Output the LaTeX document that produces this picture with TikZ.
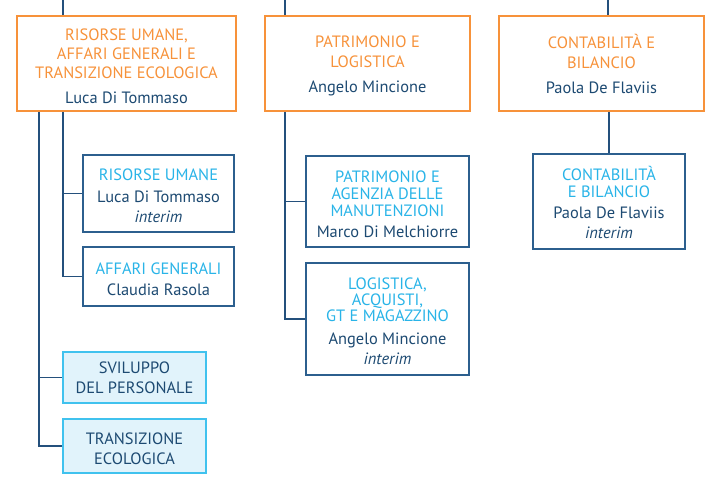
\documentclass[tikz,border=0pt]{standalone}
\usepackage{fontspec}
\setmainfont{PT Sans}
\definecolor{orangeC}{HTML}{F7923A}
\definecolor{navy}{HTML}{1D4A72}
\definecolor{cyanT}{HTML}{29B4E8}
\definecolor{subB}{HTML}{2C5F8E}
\definecolor{lightF}{HTML}{E1F3FB}
\definecolor{lightB}{HTML}{40C2EE}
\definecolor{lineC}{HTML}{24507C}
\tikzset{
  x=1pt, y=-1pt,
  txt/.style={font=\fontsize{16.4}{19}\selectfont, align=center, text=navy, inner sep=0pt},
  mainbox/.style={draw=orangeC, line width=1.7pt, fill=white, txt},
  subbox/.style={draw=subB, line width=1.2pt, fill=white, txt},
  lightbox/.style={draw=lightB, line width=1.2pt, fill=lightF, txt},
  conn/.style={draw=lineC, line width=1.1pt},
}
\newcommand{\ot}[1]{\textcolor{orangeC}{#1}}
\newcommand{\ct}[1]{\textcolor{cyanT}{#1}}
\newcommand{\fs}{\rule{0pt}{17pt}}
\begin{document}
\begin{tikzpicture}
\useasboundingbox[fill=white] (0,0) rectangle (707,485);
% main boxes
\node[mainbox, minimum width=219pt, minimum height=95pt] (b1) at (126.5,63.5)
  {\fs\ot{RISORSE UMANE,}\\\ot{AFFARI GENERALI E}\\\ot{TRANSIZIONE ECOLOGICA}\\[6pt]Luca Di Tommaso};
\node[mainbox, minimum width=205pt, minimum height=95pt] (b2) at (367.5,63.5)
  {\fs\ot{PATRIMONIO E}\\[1pt]\ot{LOGISTICA}\\[6pt]Angelo Mincione};
\node[mainbox, minimum width=205pt, minimum height=95pt] (b3) at (601.5,63.5)
  {\ot{CONTABILITÀ E}\\[1pt]\ot{BILANCIO}\\[6pt]Paola De Flaviis};
% sub boxes
\node[subbox, minimum width=151pt, minimum height=77pt] (ru) at (158.5,193.5)
  {\fs\ct{RISORSE UMANE}\\[3pt]Luca Di Tommaso\\[1pt]\textit{interim}};
\node[subbox, minimum width=151pt, minimum height=59pt] (ag) at (158.5,276.5)
  {\fs\ct{AFFARI GENERALI}\\[2pt]Claudia Rasola};
\node[lightbox, minimum width=143pt, minimum height=51pt] (sv) at (134.5,377.5)
  {SVILUPPO\\[1pt]DEL PERSONALE};
\node[lightbox, minimum width=143pt, minimum height=54pt] (tr) at (134.5,446)
  {\fs TRANSIZIONE\\[1pt]ECOLOGICA};
\node[subbox, minimum width=163pt, minimum height=91pt] (pa) at (387.5,201.5)
  {\fs\ct{PATRIMONIO E}\\[-2pt]\ct{AGENZIA DELLE}\\[-2pt]\ct{MANUTENZIONI}\\[2pt]Marco Di Melchiorre};
\node[subbox, minimum width=163pt, minimum height=112pt] (lo) at (387.5,319)
  {\fs\ct{LOGISTICA,}\\[-3pt]\ct{ACQUISTI,}\\[-3pt]\ct{GT E MAGAZZINO}\\[4pt]Angelo Mincione\\[1pt]\textit{interim}};
\node[subbox, minimum width=152pt, minimum height=95pt] (co) at (609,201.5)
  {\fs\ct{CONTABILITÀ}\\[-2pt]\ct{E BILANCIO}\\[2pt]Paola De Flaviis\\[1pt]\textit{interim}};
% coordinates
\coordinate (t1) at (63,0);
\coordinate (t2) at (285,0);
\coordinate (t3) at (608,0);
\coordinate (c39) at (39,0);
% connectors
\draw[conn] (t1) -- (t1 |- b1.north);
\draw[conn] (t2) -- (t2 |- b2.north);
\draw[conn] (t3) -- (t3 |- b3.north);
\draw[conn] (b1.south -| c39) |- (tr.west);
\draw[conn] (c39 |- sv.west) -- (sv.west);
\draw[conn] (b1.south -| t1) |- (ag.west);
\draw[conn] (t1 |- ru.west) -- (ru.west);
\draw[conn] (b2.south -| t2) |- (lo.west);
\draw[conn] (t2 |- pa.west) -- (pa.west);
\draw[conn] (b3.south -| co.north) -- (co.north);
\end{tikzpicture}
\end{document}
